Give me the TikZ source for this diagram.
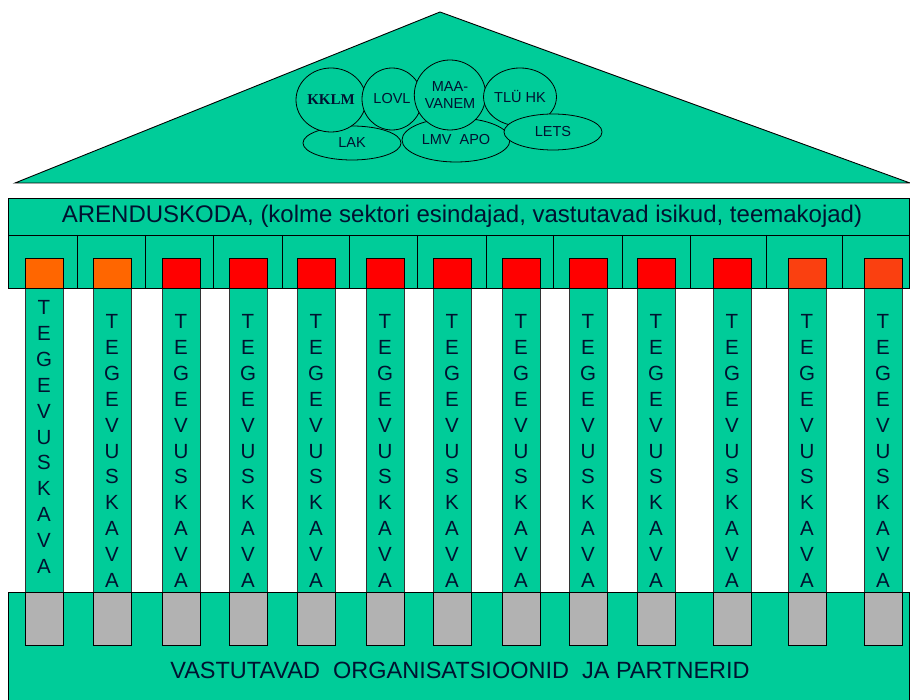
\documentclass[tikz,border=0pt]{standalone}
\usepackage{fontspec}
\setmainfont{Liberation Sans}
\newfontfamily\kklmfont{Liberation Serif}
\usetikzlibrary{shapes.geometric,shadows}
\definecolor{temple}{RGB}{0,204,153}
\definecolor{orangecap}{RGB}{255,102,0}
\definecolor{redcap}{RGB}{255,0,0}
\definecolor{ochrecap}{RGB}{250,64,16}
\definecolor{footgray}{RGB}{178,178,178}
\definecolor{ink}{RGB}{0,18,48}
\begin{document}
\begin{tikzpicture}[
        x=1pt, y=-1pt,
        green/.style={draw, fill=temple, line width=0.9pt},
        org/.style={draw, fill=temple, ellipse, inner sep=0pt, thick, text=ink, align=center,
            font=\fontsize{14.5}{17}\selectfont},
        pillar/.style={draw=black!80, fill=temple, minimum width=38pt, minimum height=304pt, inner sep=0pt},
        capbox/.style={draw, line width=0.9pt, minimum width=38pt, minimum height=30pt, inner sep=0pt,
            drop shadow={shadow xshift=1.3pt, shadow yshift=-1.3pt, opacity=1, fill=black}},
        footbox/.style={capbox, fill=footgray, minimum height=53pt},
        letters/.style={text=ink, align=center, font=\fontsize{20.5}{25.9}\selectfont},
        title/.style={text=ink, font=\fontsize{24}{24}\selectfont},
    ]
    \useasboundingbox (0,0) rectangle (910,700);
    \draw[green] (15,183) -- (440,12) -- (910,183) -- cycle;
    \node[org, minimum width=98pt, minimum height=34pt] (lak) at (352,143) {LAK};
    \node[org, minimum width=108pt, minimum height=44pt] (lmv) at (456,140) {LMV~~APO};
    \node[org, minimum width=70pt, minimum height=64pt, font=\kklmfont\bfseries\fontsize{15}{15}\selectfont] (kklm) at (331,100) {KKLM};
    \node[org, minimum width=60pt, minimum height=62pt] (lovl) at (392,99) {LOVL};
    \node[org, minimum width=68pt, minimum height=70pt] (maavanem) at (450,95) {MAA-\\VANEM};
    \node[org, minimum width=64pt, minimum height=58pt] (tlu) at (520,97) {TLÜ HK};
    \node[org, minimum width=98pt, minimum height=36pt] (lets) at (553,132) {LETS};
    \foreach \x/\c/\ty [count=\i] in {44/orangecap/437, 112/orangecap/451, 181/redcap/451, 248/redcap/451,
            316/redcap/451, 385/redcap/451, 452/redcap/451, 521/redcap/451, 588/redcap/451,
            656/redcap/451, 732/redcap/451, 807/ochrecap/451, 883/ochrecap/451}{
        \node[pillar] (p\i) at (\x,440) {};
        \node[letters] (t\i) at (\x,\ty) {T\\E\\G\\E\\V\\U\\S\\K\\A\\V\\A};
    }
    \draw[green] (8,198) rectangle (909,288);
    \draw[line width=0.9pt] (8,235) -- (909,235);
    \foreach \d in {77,145,213,282,349,417,486,553,622,690,766,842}
        \draw[line width=0.9pt] (\d,235) -- (\d,288);
    \node[title] (council) at (462,216) {ARENDUSKODA, (kolme sektori esindajad, vastutavad isikud, teemakojad)};
    \draw[green] (8,592) rectangle (909,702);
    \foreach \x/\c [count=\i] in {44/orangecap, 112/orangecap, 181/redcap, 248/redcap, 316/redcap,
            385/redcap, 452/redcap, 521/redcap, 588/redcap, 656/redcap, 732/redcap, 807/ochrecap, 883/ochrecap}{
        \node[capbox, fill=\c] (c\i) at (\x,273) {};
        \node[footbox] (f\i) at (\x,618.5) {};
    }
    \node[title, font=\fontsize{23.5}{24}\selectfont] (partners) at (460,670) {VASTUTAVAD~~ORGANISATSIOONID~~JA PARTNERID};
\end{tikzpicture}
\end{document}
